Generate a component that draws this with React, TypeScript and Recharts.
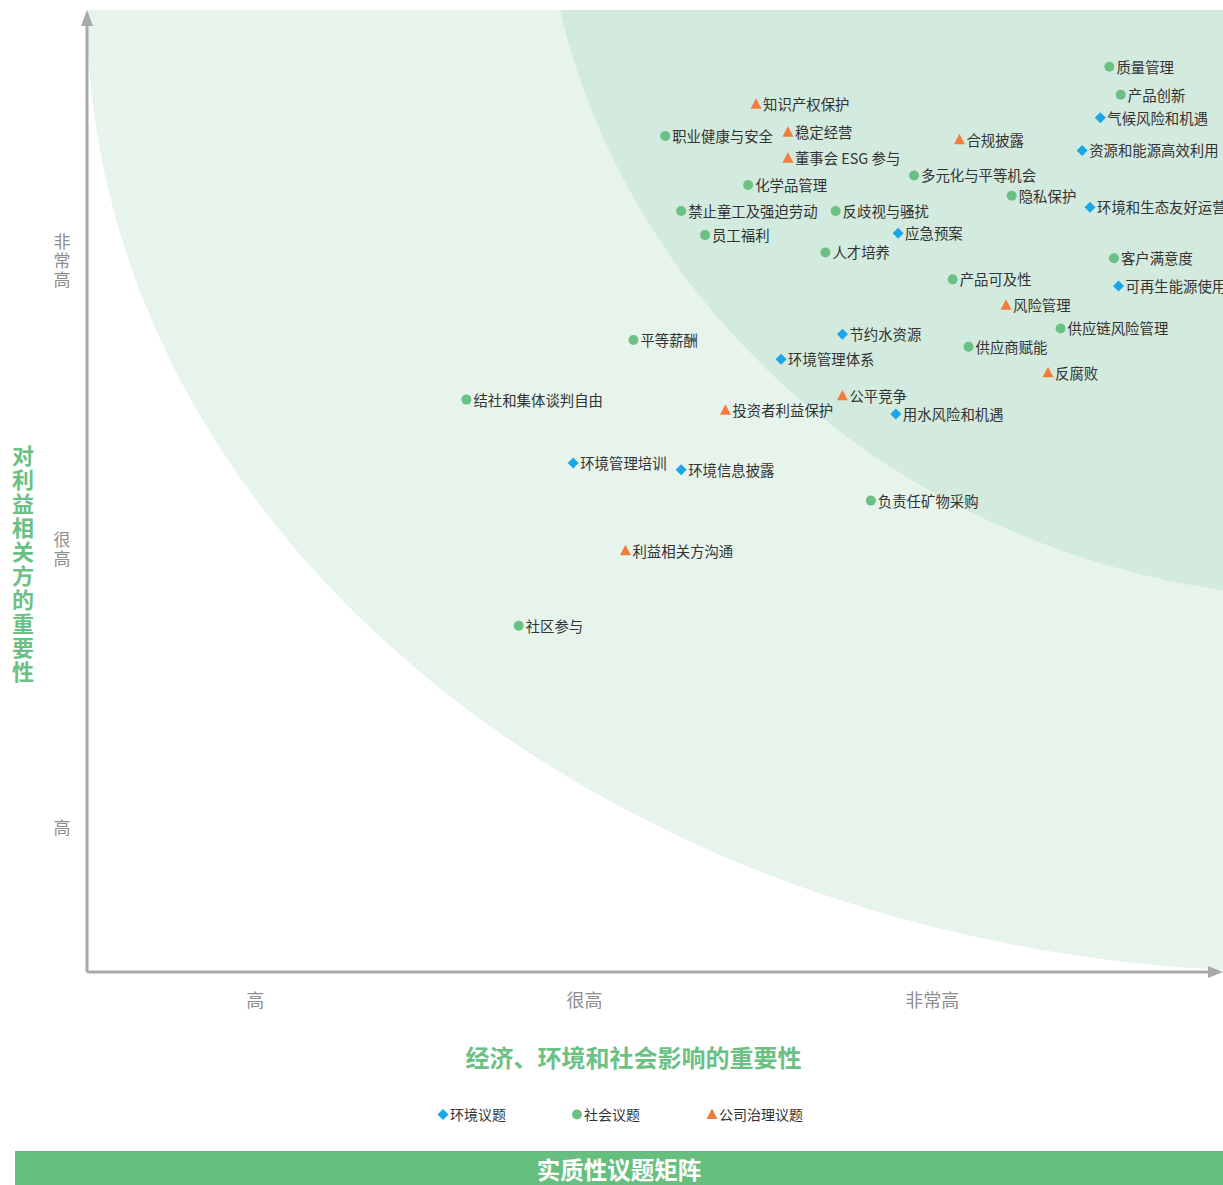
import { ScatterChart, Scatter, XAxis, YAxis, ReferenceArea } from 'recharts';

const FONT = '"Noto Sans CJK SC", "Noto Sans", sans-serif';

// tick positions (score 0-10) and their labels
const xLevelTicks = [1.48, 4.38, 7.44];
const yLevelTicks = [1.5, 4.4, 7.4];
const levelLabels = ['高', '很高', '非常高'];

// environment topics
const envTopics = ['气候风险和机遇', '资源和能源高效利用', '环境和生态友好运营', '应急预案', '可再生能源使用', '节约水资源', '环境管理体系', '用水风险和机遇', '环境管理培训', '环境信息披露'];
const envImpact = [8.92, 8.76, 8.83, 7.14, 9.08, 6.65, 6.11, 7.12, 4.28, 5.23];
const envStake = [8.88, 8.54, 7.95, 7.68, 7.13, 6.63, 6.37, 5.80, 5.29, 5.22];

// social topics
const socTopics = ['质量管理', '产品创新', '职业健康与安全', '多元化与平等机会', '化学品管理', '隐私保护', '禁止童工及强迫劳动', '反歧视与骚扰', '员工福利', '人才培养', '客户满意度', '产品可及性', '供应链风险管理', '平等薪酬', '供应商赋能', '结社和集体谈判自由', '负责任矿物采购', '社区参与'];
const socImpact = [9.0, 9.1, 5.09, 7.28, 5.82, 8.14, 5.23, 6.59, 5.44, 6.5, 9.04, 7.62, 8.57, 4.81, 7.76, 3.34, 6.9, 3.8];
const socStake = [9.41, 9.12, 8.69, 8.28, 8.18, 8.07, 7.91, 7.91, 7.66, 7.48, 7.42, 7.2, 6.69, 6.57, 6.5, 5.95, 4.9, 3.6];

// governance topics
const govTopics = ['知识产权保护', '稳定经营', '合规披露', '董事会 ESG 参与', '风险管理', '反腐败', '公平竞争', '投资者利益保护', '利益相关方沟通'];
const govImpact = [5.89, 6.17, 7.68, 6.17, 8.09, 8.46, 6.65, 5.62, 4.74];
const govStake = [9.02, 8.73, 8.65, 8.46, 6.93, 6.23, 5.99, 5.84, 4.38];

// background zones (ellipses, in score units)
const outerZone = { cx: 10.68, cy: 10, rx: 10.68, ry: 10 };
const innerZone = { cx: 11.12, cy: 11.66, rx: 7.12, ry: 7.79 };

const build = (names: string[], xs: number[], ys: number[]) =>
  names.map((name, i) => ({ name, x: xs[i], y: ys[i] }));

const envData = build(envTopics, envImpact, envStake);
const socData = build(socTopics, socImpact, socStake);
const govData = build(govTopics, govImpact, govStake);

const BLUE = '#1aa6ea';
const GREEN = '#6bc184';
const ORANGE = '#f27d3d';
const AXIS = '#a9a9ac';

function Marker({ kind, cx, cy }: { kind: string; cx: number; cy: number }) {
  if (kind === 'env') {
    return <path d={`M${cx},${cy - 5.5}L${cx + 5.5},${cy}L${cx},${cy + 5.5}L${cx - 5.5},${cy}Z`} fill={BLUE} />;
  }
  if (kind === 'gov') {
    return <path d={`M${cx},${cy - 6}L${cx + 5.5},${cy + 4.5}L${cx - 5.5},${cy + 4.5}Z`} fill={ORANGE} />;
  }
  return <circle cx={cx} cy={cy} r={5} fill={GREEN} />;
}

const pointShape = (kind: string) => (props: any) => {
  const { cx, cy, payload } = props;
  return (
    <g>
      <Marker kind={kind} cx={cx} cy={cy} />
      <text x={cx + 7} y={cy - 0.5} dominantBaseline="central" fontSize={14.4} fill="#333" fontFamily={FONT}>
        {payload.name}
      </text>
    </g>
  );
};

function Backdrop(props: any) {
  const { x, y, width, height } = props;
  const px = (v: number) => x + (v / 10) * width;
  const py = (v: number) => y + height - (v / 10) * height;
  const sx = width / 10;
  const sy = height / 10;
  const bottom = y + height;
  const right = x + width;
  return (
    <g>
      <defs>
        <clipPath id="plot-clip">
          <rect x={x} y={y} width={width} height={height} />
        </clipPath>
      </defs>
      <g clipPath="url(#plot-clip)">
        <ellipse cx={px(outerZone.cx)} cy={py(outerZone.cy)} rx={outerZone.rx * sx} ry={outerZone.ry * sy} fill="#e6f4eb" />
        <ellipse cx={px(innerZone.cx)} cy={py(innerZone.cy)} rx={innerZone.rx * sx} ry={innerZone.ry * sy} fill="#d3eade" />
      </g>
      <line x1={x} y1={bottom} x2={x} y2={y + 4} stroke={AXIS} strokeWidth={3} />
      <line x1={x} y1={bottom} x2={right - 4} y2={bottom} stroke={AXIS} strokeWidth={3} />
      <path d={`M${x},${y}L${x + 6},${y + 16}L${x - 6},${y + 16}Z`} fill={AXIS} />
      <path d={`M${right},${bottom}L${right - 15},${bottom + 6}L${right - 15},${bottom - 6}Z`} fill={AXIS} />
    </g>
  );
}

const labelOf = (ticks: number[], v: number) => levelLabels[ticks.indexOf(v)] ?? '';

function XTick(props: any) {
  const { x, y, payload } = props;
  return (
    <text x={x} y={y + 27} textAnchor="middle" dominantBaseline="central" fontSize={18} fill="#8e8e8e" fontFamily={FONT}>
      {labelOf(xLevelTicks, payload.value)}
    </text>
  );
}

function YTick(props: any) {
  const { x, y, payload } = props;
  return (
    <text
      x={x - 25}
      y={y + 1}
      textAnchor="middle"
      fontSize={17}
      fill="#8e8e8e"
      fontFamily={FONT}
      style={{ writingMode: 'vertical-rl', textOrientation: 'upright', letterSpacing: 2 }}
    >
      {labelOf(yLevelTicks, payload.value)}
    </text>
  );
}

function LegendItem({ kind, label, left }: { kind: string; label: string; left: number }) {
  return (
    <div style={{ position: 'absolute', left, top: 1104, display: 'flex', alignItems: 'center', fontSize: 14, color: '#333' }}>
      <svg width={12} height={14}>
        <Marker kind={kind} cx={6} cy={7.5} />
      </svg>
      <span style={{ marginLeft: 1 }}>{label}</span>
    </div>
  );
}

export default function App() {
  return (
    <div style={{ position: 'fixed', left: 0, top: 0, width: 1223, height: 1185, overflow: 'hidden', background: '#fff', fontFamily: FONT }}>
      <ScatterChart width={1223} height={1040} margin={{ top: 10, right: 0, bottom: 0, left: 0 }}>
        <XAxis
          type="number"
          dataKey="x"
          domain={[0, 10]}
          ticks={xLevelTicks}
          tick={<XTick />}
          tickLine={false}
          tickSize={0}
          tickMargin={0}
          axisLine={false}
          height={68}
          allowDataOverflow
        />
        <YAxis
          type="number"
          dataKey="y"
          domain={[0, 10]}
          ticks={yLevelTicks}
          tick={<YTick />}
          tickLine={false}
          tickSize={0}
          tickMargin={0}
          axisLine={false}
          width={87}
          allowDataOverflow
        />
        <ReferenceArea x1={0} x2={10} y1={0} y2={10} shape={(p: any) => <Backdrop {...p} />} />
        <Scatter data={socData} shape={pointShape('soc')} isAnimationActive={false} />
        <Scatter data={envData} shape={pointShape('env')} isAnimationActive={false} />
        <Scatter data={govData} shape={pointShape('gov')} isAnimationActive={false} />
      </ScatterChart>

      <div style={{ position: 'absolute', left: 10, top: 445, width: 26, height: 242, writingMode: 'vertical-rl', textOrientation: 'upright', color: GREEN, fontWeight: 700, fontSize: 22, letterSpacing: 2, lineHeight: '26px' }}>
        对利益相关方的重要性
      </div>
      <div style={{ position: 'absolute', left: 0, width: 1267, top: 1041, textAlign: 'center', color: GREEN, fontWeight: 700, fontSize: 24, lineHeight: '32px' }}>
        经济、环境和社会影响的重要性
      </div>

      <LegendItem kind="env" label="环境议题" left={437} />
      <LegendItem kind="soc" label="社会议题" left={571} />
      <LegendItem kind="gov" label="公司治理议题" left={706} />

      <div style={{ position: 'absolute', left: 15, top: 1151, width: 1208, height: 34, boxSizing: 'border-box', paddingTop: 2, background: '#67bf7f', color: '#fff', fontWeight: 700, fontSize: 23.5, lineHeight: '32px', textAlign: 'center' }}>
        实质性议题矩阵
      </div>
    </div>
  );
}
